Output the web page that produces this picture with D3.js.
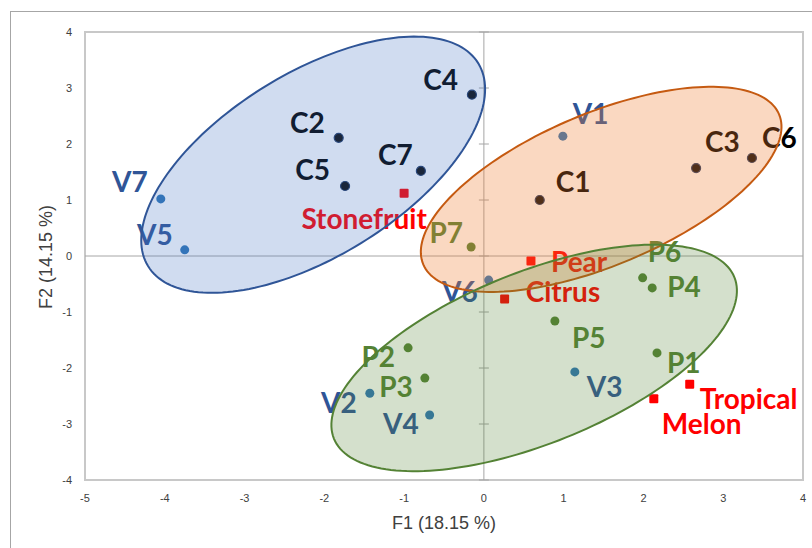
<!DOCTYPE html>
<html>
<head>
<meta charset="utf-8">
<script src="https://cdn.jsdelivr.net/npm/d3@7"></script>
<style>
  body { margin: 0; background: #fff; }
  svg { display: block; }
  .tick-label { font-family: "Liberation Sans", Arial, sans-serif; font-size: 11px; fill: #404040; }
  .axis-title { font-family: "Liberation Sans", Arial, sans-serif; font-size: 18px; fill: #404040; }
  .pt-label { font-family: Lato, "Open Sans", sans-serif; font-weight: bold; font-size: 28px; }
</style>
</head>
<body>
<svg width="812" height="548"></svg>
<script>
// sample scores on the first two factors
let names  = ["C1", "C2", "C3", "C4", "C5", "C6", "C7",
              "V1", "V2", "V3", "V4", "V5", "V6", "V7",
              "P1", "P2", "P3", "P4", "P5", "P6", "P7",
              "Stonefruit", "Pear", "Citrus", "Tropical", "Melon"];
let f1     = [0.70, -1.82, 2.66, -0.15, -1.74, 3.36, -0.79,
              0.99, -1.43, 1.14, -0.68, -3.75, 0.06, -4.05,
              2.17, -0.95, -0.74, 2.11, 0.89, 1.99, -0.16,
              -1.00, 0.59, 0.26, 2.58, 2.13];
let f2     = [1.00, 2.11, 1.57, 2.88, 1.25, 1.75, 1.52,
              2.14, -2.45, -2.07, -2.84, 0.11, -0.43, 1.02,
              -1.73, -1.64, -2.18, -0.57, -1.16, -0.39, 0.16,
              1.12, -0.09, -0.77, -2.29, -2.55];
let groups = ["C", "C", "C", "C", "C", "C", "C",
              "V", "V", "V", "V", "V", "V", "V",
              "P", "P", "P", "P", "P", "P", "P",
              "A", "A", "A", "A", "A"];

let xTicks = [-5, -4, -3, -2, -1, 0, 1, 2, 3, 4];
let yTicks = [-4, -3, -2, -1, 0, 1, 2, 3, 4];
let xTitle = "F1 (18.15 %)", yTitle = "F2 (14.15 %)";

// group ellipses: centre and half-axis vectors, in factor units
let ellipseCentres = [[-2.14, 1.63], [1.47, 1.19], [0.63, -1.82]];
let ellipseMajor   = [[2.07, 1.81], [2.23, 1.34], [2.51, 1.44]];
let ellipseMinor   = [[0.60, -1.40], [0.37, -1.25], [0.40, -1.42]];
let ellipseColours = [["#4472C4", "#2F5597", 0.25], ["#ED7D31", "#C55A11", 0.3], ["#548235", "#548235", 0.25]];

// where each label sits relative to its marker
let labelPos = {
  C1: [16, -8, "start"], C2: [-14, -5, "end"], C3: [9, -16, "start"], C4: [-14, -5, "end"],
  C5: [-15, -6, "end"], C6: [10, -10, "start"], C7: [-8, -6, "end"],
  V1: [10, -12, "start"], V2: [-13, 20, "end"], V3: [12, 25, "start"], V4: [-11, 19, "end"],
  V5: [-12, -5, "end"], V6: [-11, 22, "end"], V7: [-13, -7, "end"],
  P1: [10, 20, "start"], P2: [-13, 19, "end"], P3: [-12, 19, "end"], P4: [15, 9, "start"],
  P5: [17, 27, "start"], P6: [5, -16, "start"], P7: [-8, -4, "end"],
  Stonefruit: [-40, 36, "middle"], Pear: [20, 11, "start"], Citrus: [21, 3, "start"],
  Tropical: [10, 25, "start"], Melon: [8, 35, "start"]
};
let markFill  = { C: "#0d0d0d", V: "#2E75B6", P: "#548235", A: "#FF0000" };
let labelFill = { C: "#000000", V: "#2F5597", P: "#548235", A: "#FF0000" };

let x = d3.scaleLinear().domain([-5, 4]).range([85, 803]);
let y = d3.scaleLinear().domain([-4, 4]).range([480, 32]);

let svg = d3.select('svg');

// outer chart frame
svg.append('rect')
  .attr('x', 10.5).attr('y', 11.5).attr('width', 900).attr('height', 600)
  .attr('fill', 'none').attr('stroke', '#a6a6a6');

// plot frame
svg.append('rect')
  .attr('x', x(-5)).attr('y', y(4))
  .attr('width', x(4) - x(-5)).attr('height', y(-4) - y(4))
  .attr('fill', '#fff').attr('stroke', '#c8c8c8').attr('stroke-width', 2);

// zero lines
svg.append('line')
  .attr('x1', x(-5)).attr('x2', x(4)).attr('y1', y(0)).attr('y2', y(0))
  .attr('stroke', '#a6a6a6');
svg.append('line')
  .attr('x1', x(0)).attr('x2', x(0)).attr('y1', y(-4)).attr('y2', y(4))
  .attr('stroke', '#a6a6a6');
svg.selectAll('.ytick')
  .data(yTicks)
  .join('line')
  .attr('class', 'ytick')
  .attr('x1', x(0) - 5).attr('x2', x(0) + 5)
  .attr('y1', function(d) { return y(d); }).attr('y2', function(d) { return y(d); })
  .attr('stroke', '#a6a6a6');

// tick labels
svg.selectAll('.xlab')
  .data(xTicks)
  .join('text')
  .attr('class', 'tick-label xlab')
  .attr('x', function(d) { return x(d); })
  .attr('y', 502)
  .attr('text-anchor', 'middle')
  .text(function(d) { return String(d); });
svg.selectAll('.ylab')
  .data(yTicks)
  .join('text')
  .attr('class', 'tick-label ylab')
  .attr('x', 72)
  .attr('y', function(d) { return y(d) + 4; })
  .attr('text-anchor', 'end')
  .text(function(d) { return String(d); });

svg.append('text')
  .attr('class', 'axis-title')
  .attr('x', 444).attr('y', 529)
  .attr('text-anchor', 'middle')
  .text(xTitle);
svg.append('text')
  .attr('class', 'axis-title')
  .attr('transform', 'translate(52,257) rotate(-90)')
  .attr('text-anchor', 'middle')
  .text(yTitle);

let pts = names.map(function(n, i) {
  return { name: n, f1: f1[i], f2: f2[i], g: groups[i] };
});

// markers
svg.selectAll('circle.pt')
  .data(pts.filter(function(d) { return d.g !== 'A'; }))
  .join('circle')
  .attr('class', 'pt')
  .attr('cx', function(d) { return x(d.f1); })
  .attr('cy', function(d) { return y(d.f2); })
  .attr('r', 4.5)
  .attr('fill', function(d) { return markFill[d.g]; })
  .attr('stroke', function(d) { return d.g === 'C' ? '#1f3864' : 'none'; })
  .attr('stroke-width', 1.2);
svg.selectAll('rect.pt')
  .data(pts.filter(function(d) { return d.g === 'A'; }))
  .join('rect')
  .attr('class', 'pt')
  .attr('x', function(d) { return x(d.f1) - 4.5; })
  .attr('y', function(d) { return y(d.f2) - 4.5; })
  .attr('width', 9).attr('height', 9).attr('rx', 1)
  .attr('fill', markFill.A);

// labels
svg.selectAll('text.pt-label')
  .data(pts)
  .join('text')
  .attr('class', 'pt-label')
  .attr('x', function(d) { return x(d.f1) + labelPos[d.name][0]; })
  .attr('y', function(d) { return y(d.f2) + labelPos[d.name][1]; })
  .attr('text-anchor', function(d) { return labelPos[d.name][2]; })
  .attr('fill', function(d) { return labelFill[d.g]; })
  .text(function(d) { return d.name; });

// ellipses drawn over everything, semi transparent
let line = d3.line().curve(d3.curveLinearClosed);
ellipseCentres.forEach(function(c, k) {
  let pathPts = d3.range(0, 2 * Math.PI, Math.PI / 90).map(function(t) {
    let a = ellipseMajor[k], b = ellipseMinor[k];
    return [x(c[0] + a[0] * Math.cos(t) + b[0] * Math.sin(t)),
            y(c[1] + a[1] * Math.cos(t) + b[1] * Math.sin(t))];
  });
  svg.append('path')
    .attr('d', line(pathPts))
    .attr('fill', ellipseColours[k][0])
    .attr('fill-opacity', ellipseColours[k][2])
    .attr('stroke', ellipseColours[k][1])
    .attr('stroke-width', 2);
});
</script>
</body>
</html>
